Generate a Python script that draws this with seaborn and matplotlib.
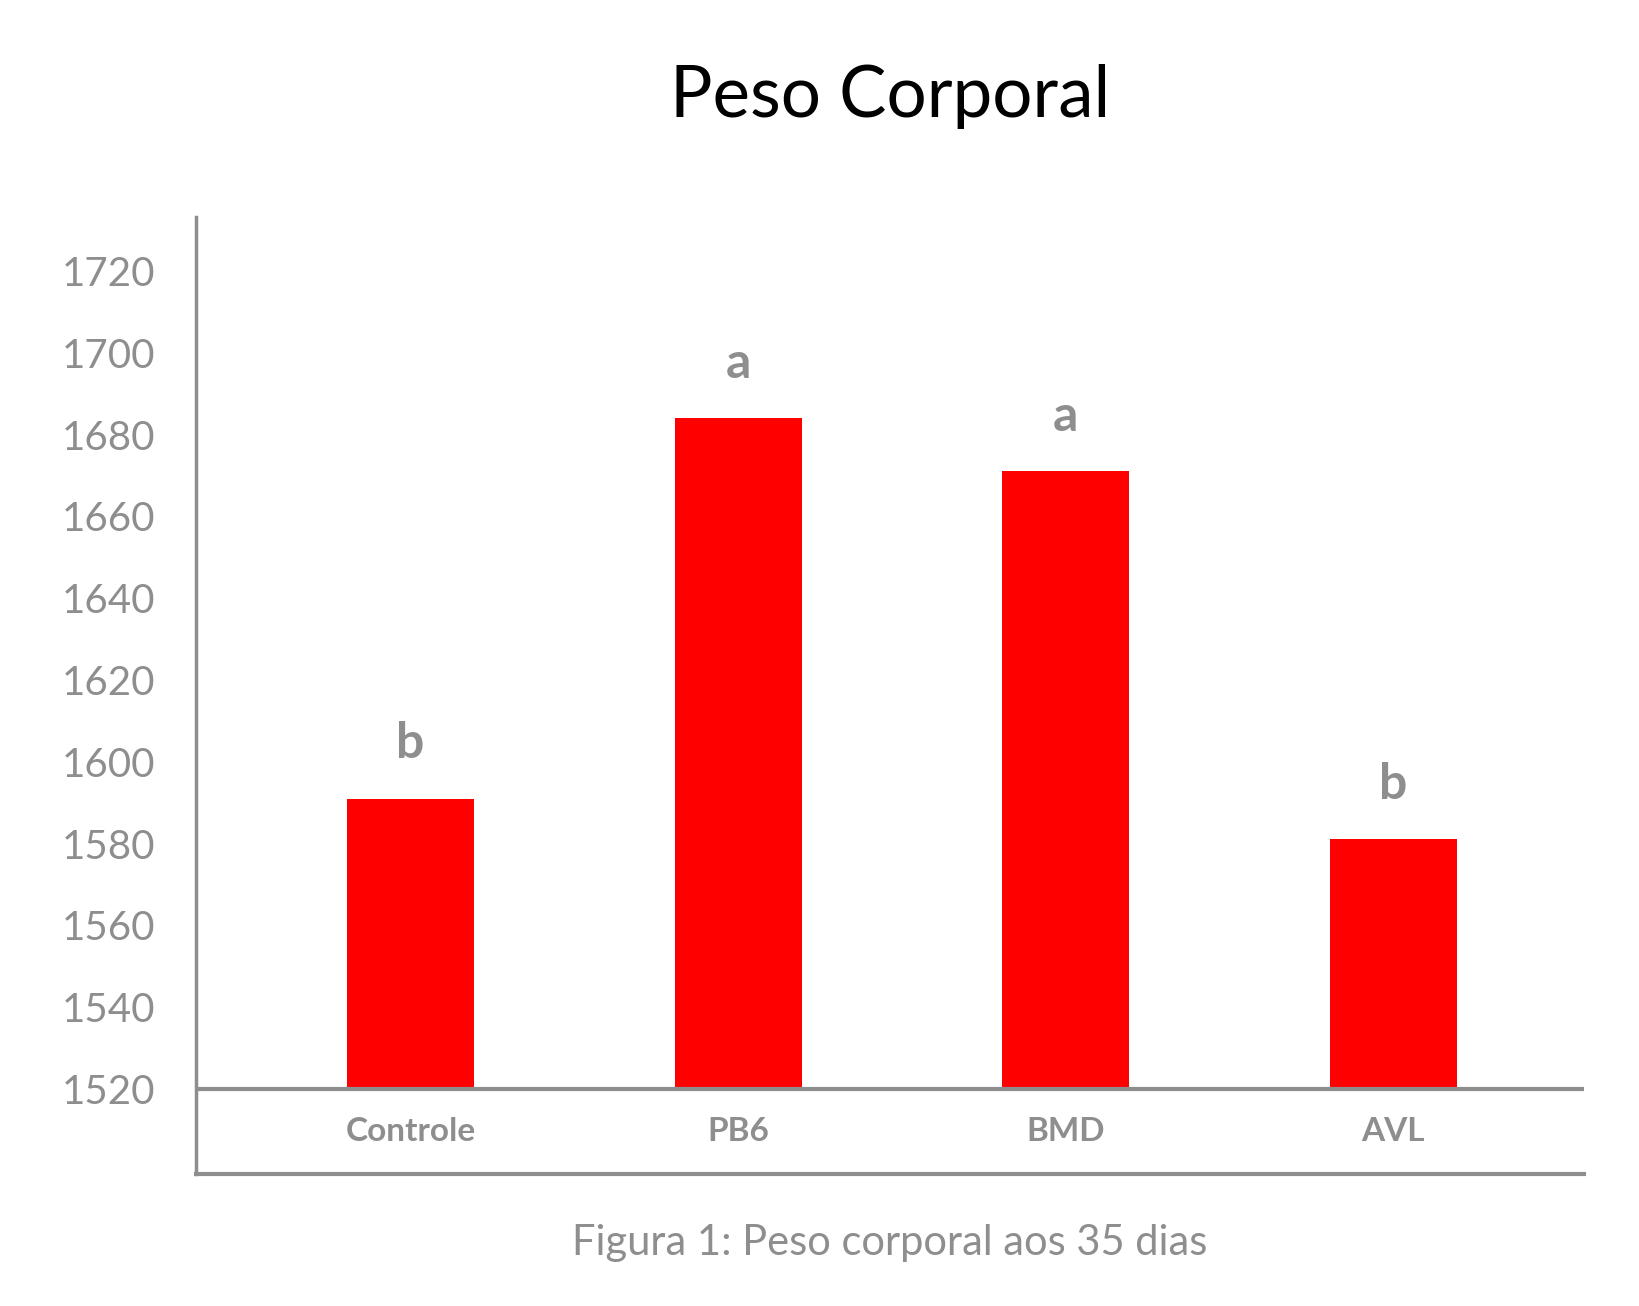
"""
plot.py

Bar chart of body weight at 35 days (Peso Corporal), one bar per treatment,
with significance letters above each bar.
"""

import matplotlib
matplotlib.use('Agg')
import matplotlib.pyplot as plt
import seaborn as sns
import pandas as pd

# Data
categories = ['Controle', 'PB6', 'BMD', 'AVL']
peso = [1591, 1684, 1671, 1581]
letras = ['b', 'a', 'a', 'b']
y_ticks = [1520, 1540, 1560, 1580, 1600, 1620, 1640, 1660, 1680, 1700, 1720]

title = 'Peso Corporal'
caption = 'Figura 1: Peso corporal aos 35 dias'

BASE = 1520
GRAY = '#8e8e8e'
RED = '#ff0000'

sns.set_theme(style='white')
plt.rcParams['font.family'] = ['Lato', 'DejaVu Sans']

df = pd.DataFrame({'Tratamento': categories, 'Peso': peso})

fig = plt.figure(figsize=(16.4, 13.06), dpi=100)
ax = fig.add_axes([0.1195, 0.1011, 0.9659 - 0.1195, 0.8338 - 0.1011])

sns.barplot(data=df, x='Tratamento', y='Peso', color=RED, width=0.388,
            saturation=1, ax=ax, zorder=2)

# Bars start at the 1520 baseline rather than at zero
for p in ax.patches:
    top = p.get_y() + p.get_height()
    p.set_y(BASE)
    p.set_height(top - BASE)
    p.set_edgecolor('none')

ax.set_xlim(-0.655, 3.583)
ax.set_ylim(1499.2, 1733.2)

# Baseline line and frame
ax.axhline(BASE, color=GRAY, lw=3, zorder=3)
sns.despine(ax=ax, top=True, right=True)
ax.spines['left'].set_color(GRAY)
ax.spines['left'].set_linewidth(2.5)
ax.spines['bottom'].set_color(GRAY)
ax.spines['bottom'].set_linewidth(3)

ax.set_yticks(y_ticks)
ax.set_yticklabels([str(t) for t in y_ticks])
ax.tick_params(axis='y', length=0, pad=29, labelsize=29, labelcolor=GRAY)
ax.set_xticks([])
ax.set_xlabel('')
ax.set_ylabel('')

# Category labels sit between the baseline and the bottom line
for i, cat in enumerate(categories):
    ax.text(i, 1509.5, cat, ha='center', va='center', fontsize=24,
            fontweight='bold', color=GRAY)

# Significance letters above the bars
for i, (v, l) in enumerate(zip(peso, letras)):
    ax.annotate(l, (i, v), xytext=(0, 29), textcoords='offset points',
                ha='center', va='baseline', fontsize=36, fontweight='bold',
                color=GRAY)

fig.text(0.5427, 0.9104, title, ha='center', va='baseline', fontsize=51,
         color='black')
fig.text(0.5427, 0.039, caption, ha='center', va='baseline', fontsize=30,
         color=GRAY)

fig.savefig('out.png', dpi=100, facecolor='white')
